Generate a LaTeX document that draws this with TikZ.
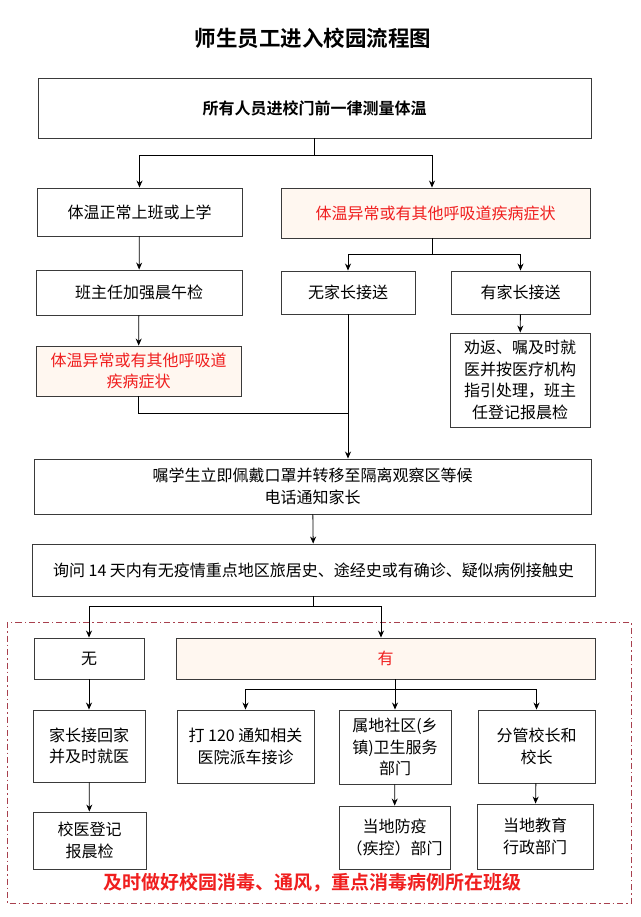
\documentclass[tikz,border=0pt]{standalone}
\usepackage{fontspec}
\setmainfont{Noto Sans CJK SC}
\newfontfamily\cjkbold{Noto Sans CJK SC Bold}
\usetikzlibrary{arrows.meta}
\definecolor{boxline}{HTML}{3A3A3A}
\definecolor{warnred}{HTML}{F01E1E}
\definecolor{beige}{HTML}{FFF7F0}
\definecolor{dashred}{HTML}{A8404E}
\tikzset{
  box/.style={draw=boxline, line width=0.9pt, fill=white, align=center, inner sep=0pt,
    font=\fontsize{16}{21.7}\selectfont},
  warnbox/.style={box, fill=beige, text=warnred},
  arr/.style={line width=0.8pt, draw=black, -{Stealth[length=7pt,width=6pt]}},
  ln/.style={line width=0.8pt, draw=black},
}
\begin{document}
\begin{tikzpicture}[x=1pt,y=-1pt]
\fill[white] (0,0) rectangle (640,917);
\useasboundingbox (0,0) rectangle (640,917);

% title
\node[font=\cjkbold\fontsize{21.5}{24}\selectfont] (title) at (313,38) {师生员工进入校园流程图};

% boxes
\node[box, minimum width=553, minimum height=60, font=\cjkbold\fontsize{16}{21.7}\selectfont] (b1) at (314.5,108) {所有人员进校门前一律测量体温};
\node[box, minimum width=205, minimum height=48] (b2) at (139.5,212) {体温正常上班或上学};
\node[warnbox, minimum width=309, minimum height=50] (b3) at (435.5,213) {体温异常或有其他呼吸道疾病症状};
\node[box, minimum width=206, minimum height=45] (b4) at (139,292.5) {班主任加强晨午检};
\node[warnbox, minimum width=205, minimum height=50] (b5) at (138.5,371) {体温异常或有其他呼吸道\\疾病症状};
\node[box, minimum width=134, minimum height=43] (b6) at (348,292.5) {无家长接送};
\node[box, minimum width=139, minimum height=43] (b7) at (520.5,292.5) {有家长接送};
\node[box, minimum width=140, minimum height=94] (b8) at (520,380) {劝返、嘱及时就\\医并按医疗机构\\指引处理，班主\\任登记报晨检};
\node[box, minimum width=557, minimum height=55] (b9) at (312.5,486.5) {嘱学生立即佩戴口罩并转移至隔离观察区等候\\电话通知家长};
\node[box, minimum width=563, minimum height=52] (b10) at (313.5,570) {询问 14 天内有无疫情重点地区旅居史、途经史或有确诊、疑似病例接触史};

% dashed region
\draw[dashred, line width=0.8pt, dash pattern=on 6pt off 3pt on 1.5pt off 3pt] (7,622) rectangle (631,903);

\node[box, minimum width=110, minimum height=41] (b11) at (89,658.5) {无};
\node[warnbox, minimum width=419, minimum height=41] (b12) at (385.5,658.5) {有};
\node[box, minimum width=112, minimum height=72] (b13) at (89,746) {家长接回家\\并及时就医};
\node[box, minimum width=113, minimum height=57] (b14) at (89.5,840.5) {校医登记\\报晨检};
\node[box, minimum width=137, minimum height=73] (b15) at (245.5,746.5) {打 120 通知相关\\医院派车接诊};
\node[box, minimum width=112, minimum height=74] (b16) at (395,747) {属地社区(乡\\镇)卫生服务\\部门};
\node[box, minimum width=117, minimum height=73] (b17) at (536.5,746.5) {分管校长和\\校长};
\node[box, minimum width=111, minimum height=63] (b18) at (394.5,837.5) {当地防疫\\（疾控）部门};
\node[box, minimum width=116, minimum height=65] (b19) at (535,836.5) {当地教育\\行政部门};

\node[text=warnred, font=\cjkbold\fontsize{19}{22}\selectfont] (note) at (312,883) {及时做好校园消毒、通风，重点消毒病例所在班级};

% connectors
\draw[ln] (b1.south) -- (b1.south |- 0,155) coordinate (j1);
\draw[arr] (j1) -| (b2.north);
\draw[arr] (j1) -| ([xshift=-3.5pt]b3.north);
\draw[arr] (b2) -- (b4);
\draw[arr] (b4) -- (b5);

\draw[ln] ([xshift=-3.5pt]b3.south) -- ([xshift=-3.5pt]b3.south |- 0,254) coordinate (j2);
\draw[arr] (j2) -| (b6.north);
\draw[arr] (j2) -| (b7.north);
\draw[arr] (b7) -- (b8);

\draw[ln] (b5.south) -- (b5.south |- 0,413) -| (b6.south);
\draw[arr] (b6.south) -- (b6.south |- b9.north);
\draw[arr] (b9) -- (b10);

\draw[ln] (b10.south) -- (b10.south |- 0,606) coordinate (j3);
\draw[arr] (j3) -| (b11.north);
\draw[arr] (j3) -| ([xshift=-4.5pt]b12.north);
\draw[arr] (b11) -- (b13);
\draw[arr] (b13) -- (b14);

\draw[ln] ([xshift=9.5pt]b12.south) -- ([xshift=9.5pt]b12.south |- 0,689) coordinate (j4);
\draw[arr] (j4) -| (b15.north);
\draw[arr] (j4) -- (b16.north);
\draw[arr] (j4) -| (b17.north);
\draw[arr] (b16) -- (b18);
\draw[arr] (b17) -- (b19);
\end{tikzpicture}
\end{document}
